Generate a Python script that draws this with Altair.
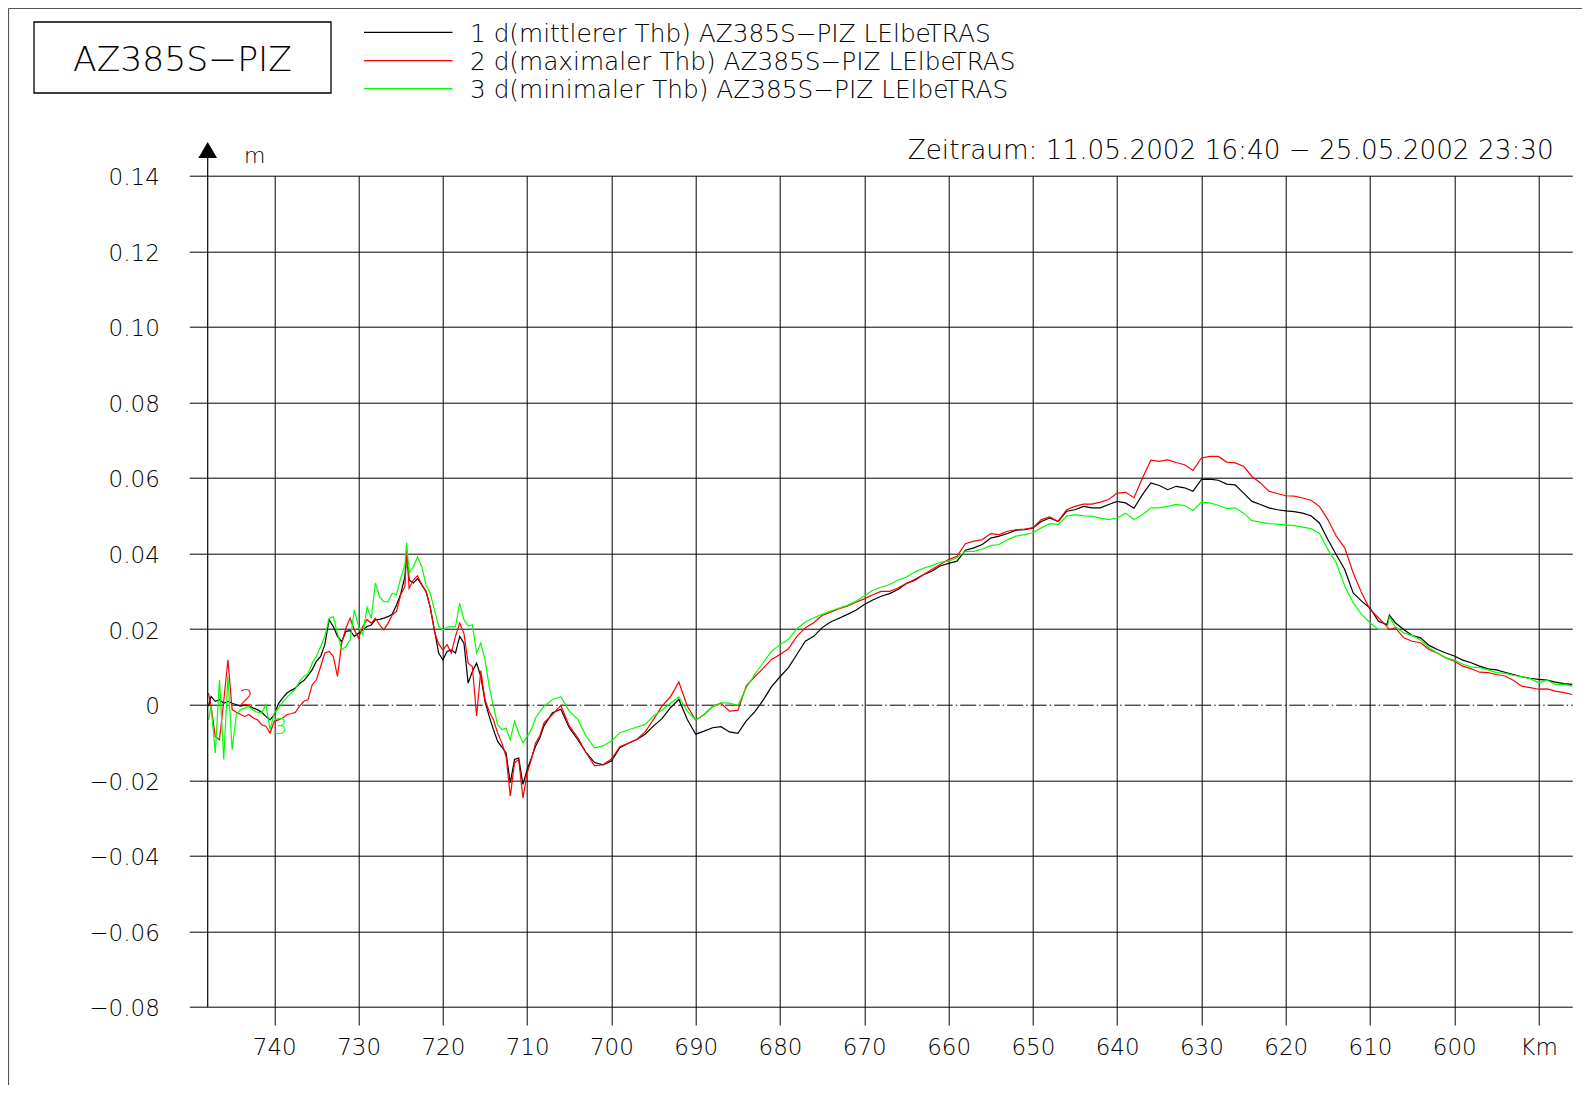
import altair as alt
import pandas as pd

# ---------------- data ----------------
km = [747.8, 747.5, 747.0, 746.5, 746.0, 745.5, 745.0, 744.5, 744.0, 743.5, 743.0, 742.5, 742.0, 741.5, 741.0, 740.5,
      740.0, 739.5, 739.0, 738.5, 738.0, 737.5, 737.0, 736.5, 736.0, 735.5, 735.0, 734.5, 734.0, 733.5, 733.0, 732.5,
      732.0, 731.5, 731.0, 730.5, 730.0, 729.5, 729.0, 728.5, 728.0, 727.5, 727.0, 726.5, 726.0, 725.5, 725.0, 724.5,
      724.3, 724.0, 723.5, 723.0, 722.5, 722.0, 721.5, 721.0, 720.5, 720.0, 719.5, 719.0, 718.5, 718.0, 717.5, 717.0,
      716.5, 716.0, 715.5, 715.0, 714.5, 714.0, 713.5, 713.0, 712.5, 712.0, 711.5, 711.0, 710.5, 710.0, 709.5, 709.0,
      708.5,
      708, 707, 706, 705, 704, 703, 702, 701, 700, 699, 698, 697, 696, 695, 694, 693, 692, 691, 690, 689, 688, 687,
      686, 685, 684, 683, 682, 681, 680, 679, 678, 677, 676, 675, 674, 673, 672, 671, 670, 669, 668, 667, 666, 665,
      664, 663, 662, 661, 660, 659, 658, 657, 656, 655, 654, 653, 652, 651, 650, 649, 648, 647, 646, 645, 644, 643,
      642, 641, 640, 639, 638, 637, 636, 635, 634, 633, 632, 631, 630, 629, 628,
      627, 626, 625, 624, 623, 622, 621, 620, 619, 618, 617, 616, 615, 614, 613, 612, 611, 610, 609, 608, 607.7,
      607, 606, 605, 604, 603, 602, 601, 600, 599, 598, 597, 596, 595, 594, 593, 592, 591, 590, 589, 588, 587, 586]

# values in mm
d_mittlerer_mm = [
    -0.4, 2.2, 0.9, 1.3, 0.4, 0.9, 0.4, 0.0, -0.4, -0.1, -0.3, -0.9, -1.3, -2.0, -3.1, -4.0,
    -2.6, 0.3, 1.8, 3.1, 3.8, 4.4, 5.6, 6.4, 7.7, 9.3, 11.5, 12.8, 15.9, 22.5, 20.7, 18.1,
    16.7, 19.4, 19.6, 18.1, 18.9, 19.8, 20.7, 21.1, 22.5, 22.6, 22.9, 23.3, 24.0, 26.4, 29.3, 33.9,
    40.5, 33.0, 32.2, 33.4, 31.7, 30.0, 25.8, 19.8, 13.7, 11.9, 14.1, 14.5, 13.7, 18.1, 16.3, 5.7,
    8.8, 11.0, 7.5, 0.9, -3.1, -6.6, -9.7, -11.2, -12.8, -20.7, -14.5, -14.1, -21.1, -17.2, -14.1, -11.0,
    -8.8,
    -5.6, -2.1, -1.2, -6.1, -9.2, -12.7, -15.3, -15.9, -14.9, -11.4, -10.2, -9.2, -7.8, -5.6, -3.7, -0.8,
    1.4, -3.9, -7.8, -7.0, -6.1, -5.8, -7.2, -7.6, -4.3, -1.9, 1.2, 4.8, 7.4, 9.8, 13.3, 16.8,
    18.1, 20.4, 21.9, 22.9, 23.9, 25.0, 26.5, 27.7, 28.7, 29.4, 30.5, 32.1, 33.1, 34.4, 35.3, 36.7,
    37.4, 38.0, 40.9, 41.5, 42.4, 44.1, 44.6, 45.3, 46.2, 46.3, 46.8, 48.5, 49.4, 48.5, 51.2, 51.6,
    52.5, 52.1, 52.1, 53.0, 53.8, 53.4, 52.0, 55.6, 58.7, 58.0, 56.9, 57.8, 57.4, 56.5, 59.6, 59.7,
    59.4,
    58.4, 58.2, 56.0, 53.8, 53.0, 52.1, 51.6, 51.3, 51.1, 50.7, 50.0, 48.1, 43.7, 39.7, 35.8, 29.6,
    27.4, 25.6, 22.1, 21.2, 23.7,
    21.7, 19.9, 18.3, 17.7, 15.7, 14.6, 13.7, 12.9, 11.8, 11.1, 10.2, 9.5, 9.2, 8.6, 8.0, 7.4,
    7.0, 6.7, 6.5, 6.0, 5.6, 5.4]

d_maximaler_mm = [
    3.1, -0.4, -8.4, -9.3, 0.9, 11.9, -1.3, -2.0, -2.6, -3.1, -2.6, -3.5, -4.0, -5.3, -5.7, -7.5,
    -4.4, -4.0, -3.5, -2.6, -2.4, -2.0, -0.4, 0.9, 1.3, 5.3, 6.6, 10.1, 13.7, 14.1, 12.8, 7.5,
    16.3, 20.3, 22.9, 19.8, 17.6, 20.7, 22.5, 21.6, 22.9, 21.1, 19.8, 21.6, 23.8, 24.7, 29.1, 31.3,
    40.8, 30.8, 33.0, 34.1, 31.7, 30.0, 25.8, 19.4, 16.1, 14.5, 15.9, 13.7, 18.1, 21.6, 18.9, 11.0,
    10.1, -3.0, 9.0, 1.3, -1.8, -4.0, -7.5, -10.1, -13.7, -24.2, -15.4, -14.5, -24.7, -18.1, -14.5, -10.1,
    -8.2,
    -4.8, -2.6, -0.2, -5.6, -8.7, -12.7, -16.2, -15.9, -14.4, -11.1, -10.2, -9.2, -7.2, -3.9, -0.4, 2.1,
    6.0, -0.4, -4.1, -2.6, -0.5, 0.4, -1.7, -1.5, 5.0, 7.4, 9.6, 12.0, 13.3, 14.8, 18.1, 20.4,
    21.7, 23.6, 24.5, 25.4, 26.1, 27.1, 28.0, 29.1, 30.0, 30.0, 30.9, 32.1, 32.9, 34.4, 35.8, 37.1,
    38.4, 39.3, 42.6, 43.3, 43.7, 45.3, 45.0, 45.9, 46.3, 46.5, 46.8, 49.0, 49.7, 48.5, 51.6, 52.5,
    53.1, 53.1, 53.6, 54.3, 56.0, 56.2, 54.8, 60.0, 64.7, 64.4, 64.8, 64.1, 63.5, 62.0, 65.3, 65.7,
    65.7,
    64.2, 64.0, 63.1, 60.4, 58.7, 56.5, 55.9, 55.3, 55.2, 54.7, 54.1, 52.5, 49.0, 44.6, 41.5, 34.9,
    29.6, 25.2, 23.0, 20.8, 19.9,
    20.4, 17.7, 16.8, 16.4, 14.6, 13.6, 12.4, 11.5, 10.2, 9.5, 8.6, 8.5, 8.0, 7.6, 6.5, 4.9,
    4.5, 4.1, 4.2, 3.6, 3.2, 2.7]

d_minimaler_mm = [
    -4.0, -0.4, -12.8, 6.6, -14.5, 7.5, -11.9, -2.6, -1.3, -0.9, -0.4, -1.5, -2.0, -2.2, 0.0, -6.6,
    -2.2, -0.9, 0.6, 2.0, 3.1, 4.1, 6.2, 7.5, 8.2, 11.0, 12.8, 15.4, 18.1, 22.9, 23.3, 18.9,
    14.5, 15.4, 17.2, 25.1, 20.7, 18.5, 25.8, 22.9, 32.2, 28.6, 27.3, 27.3, 29.5, 29.1, 33.5, 37.0,
    42.9, 34.8, 36.6, 39.1, 36.6, 31.7, 29.5, 25.1, 20.7, 19.8, 20.5, 20.7, 20.7, 26.9, 22.5, 20.9,
    21.1, 13.7, 16.3, 11.9, 4.8, -0.4, -5.3, -6.6, -6.2, -9.3, -4.4, -7.5, -10.1, -8.4, -6.6, -3.5,
    -1.8,
    -0.4, 1.4, 2.1, -1.7, -3.9, -8.3, -11.4, -10.9, -9.6, -7.4, -6.7, -5.9, -5.2, -3.0, -1.4, 0.4,
    2.1, -1.7, -4.1, -2.6, -0.5, 0.5, 0.4, -0.2, 4.5, 8.0, 11.1, 14.2, 15.9, 17.3, 20.1, 21.9,
    23.0, 23.9, 24.8, 25.6, 26.3, 27.4, 28.8, 30.3, 31.1, 31.8, 33.0, 33.8, 35.1, 36.1, 36.8, 37.7,
    38.0, 38.9, 40.6, 40.6, 41.2, 42.1, 42.4, 43.7, 44.6, 45.0, 45.5, 46.8, 47.9, 47.7, 49.9, 50.3,
    50.0, 49.9, 49.4, 49.0, 49.4, 50.7, 49.0, 50.3, 52.1, 52.1, 52.5, 53.0, 52.7, 51.4, 53.6, 53.4,
    52.8,
    51.9, 52.1, 50.7, 48.7, 48.3, 47.9, 47.8, 47.6, 47.4, 47.0, 46.6, 45.3, 41.1, 37.5, 31.4, 27.0,
    23.9, 21.7, 19.9, 19.9, 23.3,
    20.6, 19.0, 18.3, 17.1, 15.1, 13.6, 12.4, 11.8, 10.7, 10.0, 9.8, 9.2, 8.5, 8.3, 7.8, 7.4,
    6.9, 5.8, 6.5, 5.4, 5.4, 4.9]

assert len(km) == len(d_mittlerer_mm) == len(d_maximaler_mm) == len(d_minimaler_mm)

series_names = ["1 d(mittlerer Thb) AZ385S−PIZ LElbeTRAS",
                "2 d(maximaler Thb) AZ385S−PIZ LElbeTRAS",
                "3 d(minimaler Thb) AZ385S−PIZ LElbeTRAS"]
series_colors = ["#000000", "#ff0000", "#00ff00"]
series_values_mm = [d_mittlerer_mm, d_maximaler_mm, d_minimaler_mm]

x_ticks = [740, 730, 720, 710, 700, 690, 680, 670, 660, 650, 640, 630, 620, 610, 600, 590]
y_ticks = [-0.08, -0.06, -0.04, -0.02, 0.0, 0.02, 0.04, 0.06, 0.08, 0.10, 0.12, 0.14]

curve_labels = ["2", "3"]
curve_label_km = [743.3, 739.3]
curve_label_val = [0.0018, -0.0060]
curve_label_colors = ["#ff0000", "#00ff00"]

station = "AZ385S−PIZ"
period = "Zeitraum: 11.05.2002 16:40 − 25.05.2002 23:30"
unit_y = "m"

# ---------------- layout ----------------
FONT = "DejaVu Sans"
FW = 200
W, H = 1364.6, 831.3
PAD = {"left": 199.7, "top": 167.7, "right": 10, "bottom": 78}

x_axis = alt.Axis(values=x_ticks, grid=True, gridColor="#000", gridWidth=1, domain=False,
                  ticks=True, tickSize=18, tickColor="#000", tickWidth=1,
                  labelFont=FONT, labelFontWeight=FW, labelFontSize=23, labelColor="#000",
                  labelPadding=12, labelFlush=False, labelOverlap=False,
                  labelExpr="datum.value == 590 ? 'Km' : datum.label", title=None)
y_axis = alt.Axis(values=y_ticks, grid=True, gridColor="#000", gridWidth=1,
                  gridDash=alt.condition("abs(datum.value) < 1e-9", alt.value([16, 3, 1.5, 3]), alt.value([])),
                  domain=False, ticks=True, tickSize=18.4, tickColor="#000", tickWidth=1,
                  labelFont=FONT, labelFontWeight=FW, labelFontSize=23, labelColor="#000",
                  labelPadding=30, labelOffset=2, labelFlush=False, labelOverlap=False,
                  labelExpr="abs(datum.value) < 1e-9 ? '0' : format(datum.value, '.2f')", title=None)

x_enc = alt.X("km:Q", scale=alt.Scale(domain=[747.9, 586], nice=False, zero=False), axis=x_axis)
y_enc = alt.Y("value:Q", scale=alt.Scale(domain=[-0.08, 0.14], nice=False, zero=False), axis=y_axis)

layers = []
for name, color, vals in zip(series_names, series_colors, series_values_mm):
    df = pd.DataFrame({"km": km, "value": [v / 1000.0 for v in vals]})
    layers.append(alt.Chart(df).mark_line(color=color, strokeWidth=1.2).encode(x=x_enc, y=y_enc))

lab_df = pd.DataFrame({"km": curve_label_km, "value": curve_label_val,
                       "label": curve_labels, "color": curve_label_colors})
layers.append(alt.Chart(lab_df).mark_text(font=FONT, fontWeight=FW, fontSize=22, align="center",
                                          baseline="middle").encode(
    x=x_enc, y=y_enc, text="label:N", color=alt.Color("color:N", scale=None)))

one = pd.DataFrame({"t": [0]})

# y-axis line with arrow
layers.append(alt.Chart(one).mark_rule(color="#000", strokeWidth=1.2).encode(
    x=alt.value(0), y=alt.value(-18), y2=alt.value(H)))
layers.append(alt.Chart(one).mark_point(shape="triangle-up", filled=True, size=350, color="#000",
                                        opacity=1).encode(x=alt.value(0), y=alt.value(-25.7)))
layers.append(alt.Chart(pd.DataFrame({"t": [unit_y]})).mark_text(
    font=FONT, fontWeight=FW, fontSize=22, align="left", baseline="alphabetic", color="#000").encode(
    x=alt.value(36.3), y=alt.value(-12.4), text="t:N"))

# period text
layers.append(alt.Chart(pd.DataFrame({"t": [period]})).mark_text(
    font=FONT, fontWeight=FW, fontSize=26.3, align="right", baseline="alphabetic", color="#000").encode(
    x=alt.value(1346), y=alt.value(-16.7), text="t:N"))

# station box
layers.append(alt.Chart(one).mark_rect(fillOpacity=0, stroke="#000", strokeWidth=1.3).encode(
    x=alt.value(-173.7), x2=alt.value(123.3), y=alt.value(-153.7), y2=alt.value(-82.7)))
layers.append(alt.Chart(pd.DataFrame({"t": [station]})).mark_text(
    font=FONT, fontWeight=FW, fontSize=34.6, align="center", baseline="alphabetic", color="#000").encode(
    x=alt.value(-25.2), y=alt.value(-104.7), text="t:N"))

# legend
legend_y = [-143.4, -115.0, -87.0]
for name, color, ly in zip(series_names, series_colors, legend_y):
    d = pd.DataFrame({"t": [name]})
    layers.append(alt.Chart(d).mark_rule(color=color, strokeWidth=1.2).encode(
        x=alt.value(156.3), x2=alt.value(244.8), y=alt.value(ly)))
    layers.append(alt.Chart(d).mark_text(font=FONT, fontWeight=FW, fontSize=24.8, align="left",
                                         baseline="alphabetic", color="#000").encode(
        x=alt.value(262.3), y=alt.value(ly + 9.2), text="t:N"))

# page frame (top and left)
layers.append(alt.Chart(one).mark_rule(color="#555", strokeWidth=1.2).encode(
    x=alt.value(-199.2), x2=alt.value(W + 10), y=alt.value(-167.2)))
layers.append(alt.Chart(one).mark_rule(color="#555", strokeWidth=1.2).encode(
    x=alt.value(-199.2), y=alt.value(-167.2), y2=alt.value(H + 78)))

chart = alt.layer(*layers).properties(
    width=W, height=H, padding=PAD,
    autosize=alt.AutoSizeParams(type="none"),
    background="white",
).configure_view(stroke=None)

chart.save("out.html", embed_options={"renderer": "svg", "actions": False})
